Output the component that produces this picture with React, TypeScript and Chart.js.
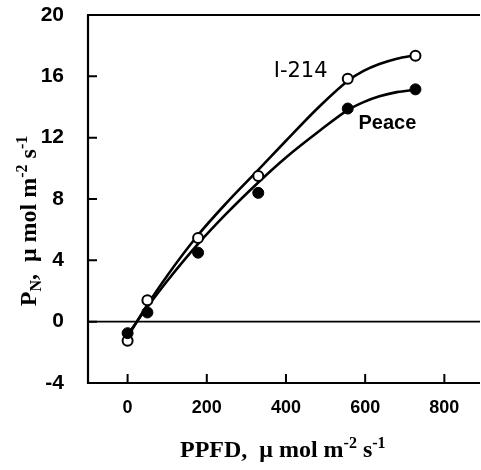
import React, { useEffect, useRef } from "react";
import { Chart, registerables } from "chart.js";
Chart.register(...registerables);

// Measured points
const ppfd = [0, 50, 178, 330, 556, 727];
const i214Values = [-1.25, 1.4, 5.45, 9.5, 15.85, 17.35];
const peaceValues = [-0.75, 0.6, 4.5, 8.4, 13.9, 15.15];

// Fitted curves
const curveX = [0, 50, 100, 178, 250, 330, 400, 485, 556, 596, 636, 680, 727];
const i214Curve = [-1.0, 1.1, 3.0, 5.65, 7.75, 9.9, 11.8, 14.05, 15.7, 16.35, 16.8, 17.15, 17.38];
const peaceCurve = [-0.85, 0.95, 2.65, 5.07, 7.06, 9.08, 10.71, 12.45, 13.8, 14.32, 14.7, 14.97, 15.13];

const xTicks = [0, 200, 400, 600, 800];
const yTicks = [-4, 0, 4, 8, 12, 16, 20];

const seriesLabels = ["I-214", "Peace"];
const labelAnchors = [
  { x: 437, y: 16.3 },
  { x: 656, y: 12.9 },
];

type Seg = { t: string; sup?: boolean; sub?: boolean };
const xTitle: Seg[] = [
  { t: "PPFD,  " },
  { t: "\u03bc" },
  { t: " mol m" },
  { t: "-2", sup: true },
  { t: " s" },
  { t: "-1", sup: true },
];
const yTitle: Seg[] = [
  { t: "P" },
  { t: "N", sub: true },
  { t: ",  " },
  { t: "\u03bc" },
  { t: " mol m" },
  { t: "-2", sup: true },
  { t: " s" },
  { t: "-1", sup: true },
];

const SERIF = '"Liberation Serif", "DejaVu Serif", serif';
const SANS = '"Liberation Sans", Arial, sans-serif';

function drawRich(ctx: CanvasRenderingContext2D, segs: Seg[], cx: number, baseline: number) {
  const big = `bold 24px ${SERIF}`;
  const small = `bold 16px ${SERIF}`;
  let total = 0;
  const widths = segs.map((s) => {
    ctx.font = s.sup || s.sub ? small : big;
    const w = ctx.measureText(s.t).width;
    total += w;
    return w;
  });
  let x = cx - total / 2;
  ctx.textBaseline = "alphabetic";
  ctx.textAlign = "left";
  segs.forEach((s, i) => {
    ctx.font = s.sup || s.sub ? small : big;
    const dy = s.sup ? -9 : s.sub ? 5 : 0;
    ctx.fillText(s.t, x, baseline + dy);
    x += widths[i];
  });
}

const decor = {
  id: "decor",
  beforeDatasetsDraw(chart: any) {
    const { ctx, chartArea } = chart;
    const xs = chart.scales.x;
    const ys = chart.scales.y;
    ctx.save();
    ctx.strokeStyle = "#000";
    ctx.lineCap = "butt";
    // zero line
    ctx.lineWidth = 1.6;
    const y0 = ys.getPixelForValue(0);
    ctx.beginPath();
    ctx.moveTo(chartArea.left, y0);
    ctx.lineTo(chartArea.right, y0);
    ctx.stroke();
    // frame: left, bottom, top
    ctx.lineWidth = 2.2;
    ctx.beginPath();
    ctx.moveTo(chartArea.left, chartArea.top);
    ctx.lineTo(chartArea.left, chartArea.bottom);
    ctx.lineTo(chartArea.right, chartArea.bottom);
    ctx.moveTo(chartArea.left - 1, chartArea.top);
    ctx.lineTo(chartArea.right, chartArea.top);
    ctx.stroke();
    // inward ticks
    ctx.lineWidth = 2;
    ctx.beginPath();
    yTicks.forEach((v) => {
      const p = ys.getPixelForValue(v);
      ctx.moveTo(chartArea.left, p);
      ctx.lineTo(chartArea.left + 9, p);
    });
    xTicks.forEach((v) => {
      const p = xs.getPixelForValue(v);
      ctx.moveTo(p, chartArea.bottom);
      ctx.lineTo(p, chartArea.bottom - 9);
    });
    ctx.stroke();
    ctx.restore();
  },
  afterDraw(chart: any) {
    const { ctx } = chart;
    const xs = chart.scales.x;
    const ys = chart.scales.y;
    ctx.save();
    ctx.fillStyle = "#000";
    // series labels
    ctx.textAlign = "center";
    ctx.textBaseline = "middle";
    ctx.font = `21px "DejaVu Sans", sans-serif`;
    ctx.fillText(seriesLabels[0], xs.getPixelForValue(labelAnchors[0].x), ys.getPixelForValue(labelAnchors[0].y));
    ctx.font = `bold 20px ${SANS}`;
    ctx.fillText(seriesLabels[1], xs.getPixelForValue(labelAnchors[1].x), ys.getPixelForValue(labelAnchors[1].y));
    // axis titles
    drawRich(ctx, xTitle, xs.getPixelForValue(392), 457);
    ctx.translate(0, 221);
    ctx.rotate(-Math.PI / 2);
    drawRich(ctx, yTitle, 0, 36);
    ctx.restore();
  },
};

const zeroPad = (s: any) => {
  s.paddingTop = 0;
  s.paddingBottom = 0;
  s.paddingLeft = 0;
  s.paddingRight = 0;
};

export default function App() {
  const ref = useRef<HTMLCanvasElement | null>(null);
  useEffect(() => {
    if (!ref.current) return;
    const pts = (xs: number[], ys: number[]) => xs.map((x, i) => ({ x, y: ys[i] }));
    const chart = new Chart(ref.current, {
      type: "scatter",
      data: {
        datasets: [
          {
            label: "Peace",
            data: pts(ppfd, peaceValues),
            pointRadius: 5.5,
            pointBackgroundColor: "#000",
            pointBorderColor: "#000",
            pointBorderWidth: 1,
            showLine: false,
          },
          {
            label: "I-214",
            data: pts(ppfd, i214Values),
            pointRadius: 5,
            pointBackgroundColor: "#fff",
            pointBorderColor: "#000",
            pointBorderWidth: 2,
            showLine: false,
          },
          {
            label: "I-214 fit",
            data: pts(curveX, i214Curve),
            showLine: true,
            pointRadius: 0,
            borderColor: "#000",
            borderWidth: 2.6,
            cubicInterpolationMode: "monotone",
          },
          {
            label: "Peace fit",
            data: pts(curveX, peaceCurve),
            showLine: true,
            pointRadius: 0,
            borderColor: "#000",
            borderWidth: 2.6,
            cubicInterpolationMode: "monotone",
          },
        ],
      },
      options: {
        animation: false,
        responsive: false,
        layout: { autoPadding: false, padding: { top: 15, right: 1, left: 0, bottom: 0 } },
        plugins: { legend: { display: false }, tooltip: { enabled: false } },
        scales: {
          x: {
            type: "linear",
            min: -100,
            max: 890,
            afterFit: (s: any) => {
              s.height = 87;
              zeroPad(s);
            },
            afterBuildTicks: (s: any) => {
              s.ticks = xTicks.map((v) => ({ value: v }));
            },
            grid: { display: false },
            border: { display: false },
            ticks: {
              padding: 6,
              color: "#000",
              font: { family: SANS, size: 18, weight: "bold" },
            },
          },
          y: {
            type: "linear",
            min: -4,
            max: 20,
            afterFit: (s: any) => {
              s.width = 88;
              zeroPad(s);
            },
            afterBuildTicks: (s: any) => {
              s.ticks = yTicks.map((v) => ({ value: v }));
            },
            grid: { display: false },
            border: { display: false },
            ticks: {
              padding: 16,
              color: "#000",
              font: { family: SANS, size: 21, weight: "bold" },
            },
          },
        },
      },
      plugins: [decor],
    } as any);
    return () => chart.destroy();
  }, []);
  return (
    <div style={{ position: "absolute", left: 0, top: 0, width: 481, height: 470, background: "#fff" }}>
      <canvas ref={ref} width={481} height={470} style={{ display: "block" }} />
    </div>
  );
}
